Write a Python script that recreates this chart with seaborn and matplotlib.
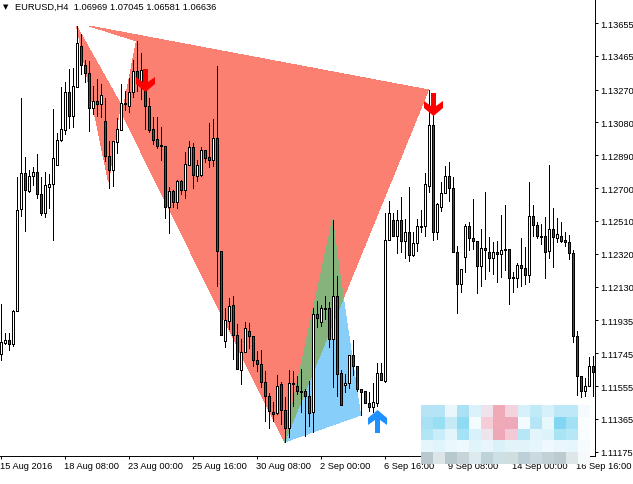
import numpy as np
import seaborn as sns
import matplotlib.pyplot as plt
from matplotlib.colors import to_rgb
from matplotlib.path import Path

# EURUSD H4 candles, prices in points (1e-5)
opens = [111740,111804,111821,111798,111989,112579,112787,112683,112770,112793,
         112666,112556,112706,112724,112834,112978,113036,113256,113117,113285,
         113522,113412,113366,113163,113204,113187,113088,112886,112805,112967,
         113036,113187,113175,113256,113377,113314,113262,113175,113042,112984,
         112944,112944,112591,112683,112620,112741,112689,112834,112938,112770,
         112776,112920,112880,112863,112990,112336,111816,111931,112024,111850,
         111648,111752,111873,111844,111706,111682,111578,111497,111405,111399,
         111567,111416,111312,111567,111555,111526,111526,111497,111405,111972,
         111925,112001,112006,111827,112076,111630,111561,111573,111735,111671,
         111538,111526,111457,111434,111457,111630,111584,112400,112516,112423,
         112516,112394,112446,112313,112382,112475,112481,112712,113065,112446,
         112591,112672,112770,112701,112330,112145,112301,112481,112411,112394,
         112249,112354,112330,112296,112330,112319,112342,112348,112186,112180,
         112255,112238,112197,112539,112487,112423,112423,112336,112463,112411,
         112423,112400,112388,112325,111844,111613,111526,111555,111671]
highs = [112030,111862,111862,111995,112764,113221,112880,112805,112822,112897,
         112764,112793,112782,113158,113019,113285,113314,113389,113395,113638,
         113592,113441,113435,113291,113331,113302,113221,112973,112973,113106,
         113302,113262,113337,113441,113551,113482,113314,113221,113111,113111,
         113054,112944,112706,112689,112747,112747,112909,112973,112961,112863,
         112938,112920,113077,113100,113406,112336,112006,112064,112076,111914,
         111827,111925,111920,111844,111758,111763,111642,111515,111463,111619,
         111578,111492,111648,111642,111613,111654,111538,111584,112006,112047,
         112024,112076,112041,112516,112192,111648,111625,111735,111821,111671,
         111538,111526,111521,111573,111688,111688,112556,112625,112556,112573,
         112649,112521,112706,112446,112521,112573,112787,113268,113123,112614,
         112735,112828,112851,112764,112365,112232,112492,112504,112637,112394,
         112463,112677,112417,112388,112394,112544,112602,112348,112215,112267,
         112411,112359,112735,112602,112504,112492,112533,112834,112585,112527,
         112504,112446,112429,112342,111873,111613,111601,111723,111729]
lows = [111706,111798,111763,111787,111989,112539,112452,112678,112718,112643,
        112544,112533,112585,112400,112834,112973,113013,113048,113054,113285,
        113360,113314,113030,113129,113117,113111,112857,112701,112712,112903,
        113036,113152,113140,113227,113262,113216,113042,113025,112955,112932,
        112863,112527,112440,112591,112585,112666,112643,112834,112701,112741,
        112770,112851,112822,112828,112134,111850,111781,111885,111711,111654,
        111567,111752,111775,111671,111642,111549,111353,111312,111353,111393,
        111335,111231,111260,111440,111509,111405,111266,111324,111289,111897,
        111902,111943,111781,111549,111497,111445,111521,111544,111619,111526,
        111387,111457,111411,111405,111440,111590,111578,112400,112423,112325,
        112330,112296,112278,112307,112336,112446,112423,112677,112400,112406,
        112568,112672,112625,112330,111978,112099,112215,112342,112348,112093,
        112134,112174,112220,112203,112157,112186,112226,112030,112099,112128,
        112134,112145,112157,112423,112411,112377,112180,112296,112244,112388,
        112388,112365,112290,111810,111503,111492,111497,111555,111497]
closes = [111810,111821,111798,111989,112573,112787,112689,112770,112793,112666,
          112556,112718,112724,112874,112978,113042,113256,113117,113291,113539,
          113412,113366,113163,113204,113187,113239,112886,112805,112973,113042,
          113192,113192,113256,113377,113314,113383,113175,113036,112978,112944,
          112949,112591,112683,112620,112741,112689,112839,112938,112776,112834,
          112920,112874,112863,112990,112336,111850,111937,112018,111850,111654,
          111752,111891,111844,111706,111682,111578,111497,111411,111393,111555,
          111416,111312,111573,111573,111526,111521,111497,111399,111972,111949,
          112006,112006,111827,112076,111625,111445,111573,111735,111671,111538,
          111521,111457,111434,111463,111630,111590,112400,112556,112423,112516,
          112394,112446,112313,112382,112481,112481,112724,113065,112446,112608,
          112672,112770,112701,112330,112145,112232,112481,112411,112394,112249,
          112354,112342,112296,112330,112319,112342,112348,112180,112180,112255,
          112238,112197,112539,112487,112423,112417,112330,112463,112417,112435,
          112394,112388,112325,111844,111613,111526,111555,111671,111636]

# harmonic pattern outlines (bar index, points)
small_k = [19, 27, 30]
small_p = [113638, 112735, 113187]
big_k = [22.2, 34, 30.4, 71, 107]
big_p = [113638, 113551, 113129, 111231, 113268]
blue_k = [71, 85.7, 90]
blue_p = [111231, 112064, 111387]
green_k = [71, 83, 85.7]
green_p = [111231, 112516, 112064]

# signal arrows
sell_k = [36, 108]
sell_p = [113323, 113187]
buy_k = [94]
buy_p = [111353]

x_ticks = [0, 16, 32, 48, 64, 80, 96, 112, 128, 144]
x_labels = ["15 Aug 2016", "18 Aug 08:00", "23 Aug 00:00", "25 Aug 16:00", "30 Aug 08:00",
            "2 Sep 00:00", "6 Sep 16:00", "9 Sep 08:00", "14 Sep 00:00", "16 Sep 16:00"]
y_labels = ["1.13655", "1.13465", "1.13270", "1.13080", "1.12890", "1.12700", "1.12510",
            "1.12320", "1.12130", "1.11935", "1.11745", "1.11555", "1.11365", "1.11175"]

# pixelated patch over the corner of the screenshot
mosaic_rows = [
    ["#B7E3F7", "#B5E4F7", "#E9F7FC", "#ACE1F5", "#DCF2FB", "#EEE3EC", "#EFA9B7",
     "#F5D3DD", "#D8F0FA", "#C0EAF8", "#D7F1FA", "#BCE8F8", "#BCE8F8", "#F4FBFE"],
    ["#A9E0F5", "#98DFF3", "#C5EAF6", "#8EDBF3", "#F4FCFF", "#F5CDD7", "#EFA9B7",
     "#EDA9B9", "#F3FBFE", "#B5E5F6", "#E8F7FC", "#80D6F3", "#A2E0F6", "#FBFEFF"],
    ["#B2E5F5", "#C8ECF8", "#E3F5FB", "#A4E2F5", "#D8F1FB", "#EDE4EC", "#EEA8B8",
     "#F3C9D5", "#B6E7F7", "#E3F5FB", "#DCF3FA", "#A9E4F5", "#B5E8F7", "#F8FDFF"],
    ["#E4F6FC", "#DFF4FB", "#EAF7FC", "#EEF9FD", "#E0F4FA", "#E8F6FC", "#DBF1FA",
     "#E2F4FA", "#E2F4FA", "#E4F5FB", "#EFF9FD", "#E9F7FC", "#E5F6FC", "#F6FCFE"],
    ["#B8C8CE", "#DCE6E8", "#B8C9CE", "#C7D5D9", "#DDEAEE", "#BFD2D8", "#CDE0E5",
     "#D0DEDF", "#BDD0D8", "#CAD9DE", "#C2D1D6", "#BCCBD0", "#DDE7EA", "#F6F9FA"],
]

sns.set_theme(style="white")
plt.rcParams['font.family'] = ['Liberation Sans', 'DejaVu Sans']
font_size = 6.7
# just under 1px, so the aliased strokes snap to one pixel column
line_w = 0.7

W, H = 633, 485
fig = plt.figure(figsize=(W / 100, H / 100), dpi=100)
ax = fig.add_axes([0, (H - 456.5) / H, 594.5 / W, 456.5 / H])

k = np.arange(len(opens))
o = np.array(opens) / 1e5
h = np.array(highs) / 1e5
l = np.array(lows) / 1e5
c = np.array(closes) / 1e5
body_top = np.maximum(o, c)
body_bot = np.minimum(o, c)

# wicks stop at the body so nothing crosses its fill
ax.vlines(k, body_top, h, colors="black", linewidth=line_w, antialiased=False, zorder=2)
ax.vlines(k, l, body_bot, colors="black", linewidth=line_w, antialiased=False, zorder=2)
up = c >= o
for mask, col in [(up, "white"), (~up, "red")]:
    sns.barplot(x=k[mask], y=(body_top - body_bot)[mask], bottom=body_bot[mask], native_scale=True,
                color=col, saturation=1, width=0.5, errorbar=None, edgecolor="black",
                linewidth=line_w, antialiased=False, zorder=3, ax=ax)

# pattern fills, under the candles
ax.fill(big_k, np.array(big_p) / 1e5, color="#FC8072", lw=0, antialiased=False, zorder=1)
ax.fill(small_k, np.array(small_p) / 1e5, color="#FC8072", lw=0, antialiased=False, zorder=1)
ax.fill(blue_k, np.array(blue_p) / 1e5, color="#87CEFA", lw=0, antialiased=False, zorder=1.1)
ax.fill(green_k, np.array(green_p) / 1e5, color="#86B27C", lw=0, antialiased=False, zorder=1.2)

# arrows
down_arrow = Path([(-2.5, 11.5), (2.5, 11.5), (2.5, -1.5), (9.5, 3.5), (9.5, -3.5), (0, -11.5),
                   (-9.5, -3.5), (-9.5, 3.5), (-2.5, -1.5), (-2.5, 11.5)], closed=True)
up_arrow = Path(down_arrow.vertices * [1, -1], closed=True)
sns.scatterplot(x=sell_k, y=np.array(sell_p) / 1e5, marker=down_arrow, s=274, color="red",
                linewidth=0, zorder=4, ax=ax)
sns.scatterplot(x=buy_k, y=np.array(buy_p) / 1e5, marker=up_arrow, s=274, color="#1E90FF",
                linewidth=0, zorder=4, ax=ax)

ax.set_xlim(-0.125, 148.5)
ax.set_ylim(1.11153, 1.13794)
ax.set_xlabel("")
ax.set_ylabel("")

sns.despine(ax=ax, left=True, top=True, right=False, bottom=False)
for side in ["right", "bottom"]:
    ax.spines[side].set_color("black")
    ax.spines[side].set_linewidth(line_w)

ax.yaxis.tick_right()
ax.set_yticks([float(v) for v in y_labels])
ax.set_yticklabels(y_labels, fontsize=font_size, color="black")
ax.set_xticks(x_ticks)
ax.set_xticklabels(x_labels, fontsize=font_size, color="black", ha="left")
ax.tick_params(axis="both", length=2.2, width=line_w, color="black", bottom=True, right=True,
               left=False, pad=1.6)

# header
fig.text(3 / W, 1 - 7.5 / H, "\u25BC", fontsize=5, color="black", va="center", family="DejaVu Sans")
fig.text(15 / W, 1 - 7.5 / H, "EURUSD,H4  1.06969 1.07045 1.06581 1.06636", fontsize=font_size,
         color="black", va="center")

# mosaic on top of everything
rgb = np.array([[to_rgb(v) for v in row] for row in mosaic_rows])
ax2 = fig.add_axes([421 / W, (H - 465) / H, 168 / W, 59 / H])
ax2.imshow(rgb, aspect="auto", interpolation="nearest")
ax2.axis("off")

fig.savefig("out.png", dpi=100)
